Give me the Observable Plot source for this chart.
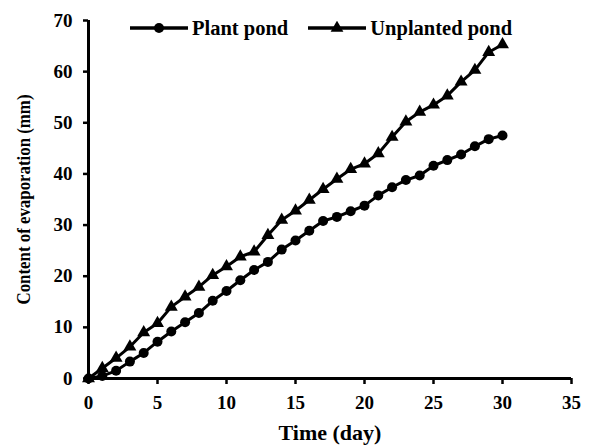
<!DOCTYPE html>
<html>
<head>
<meta charset="utf-8">
<script src="https://cdn.jsdelivr.net/npm/d3@7"></script>
<script src="https://cdn.jsdelivr.net/npm/@observablehq/plot@0.6"></script>
<style>
  body { margin: 0; background: #fff; }
  #wrap { position: relative; width: 599px; height: 445px; font-family: "Liberation Serif", "Times New Roman", serif; font-weight: bold; }
  #legend { position: absolute; top: 16px; left: 130px; display: flex; align-items: center; font-size: 20.5px; line-height: 24px; color: #000; }
  #legend .item { display: flex; align-items: center; }
  #legend svg { display: block; margin-right: 4px; }
</style>
</head>
<body>
<div id="wrap"><div id="chart"></div><div id="legend"></div></div>
<script>
const days = d3.range(0, 31);
const plantPond = [0, 0.5, 1.5, 3.3, 5, 7.2, 9.2, 11, 12.8, 15.2, 17.1, 19.2, 21.2, 22.8, 25.2, 27, 28.9, 30.8, 31.6, 32.7, 33.8, 35.8, 37.4, 38.8, 39.7, 41.6, 42.7, 43.8, 45.4, 46.8, 47.5];
const unplantedPond = [0, 2, 4, 6.2, 9, 10.8, 14, 16, 17.9, 20.2, 21.9, 23.8, 24.8, 28, 31, 32.8, 34.9, 37, 39, 40.9, 42, 44, 47.2, 50.2, 52.1, 53.5, 55.3, 58, 60.3, 63.8, 65.3];
const seriesNames = ["Plant pond", "Unplanted pond"];
const xTicks = [0, 5, 10, 15, 20, 25, 30, 35];
const yTicks = [0, 10, 20, 30, 40, 50, 60, 70];

const plant = days.map((d, i) => ({day: d, value: plantPond[i]}));
const unplanted = days.map((d, i) => ({day: d, value: unplantedPond[i]}));

const chart = Plot.plot({
  width: 599,
  height: 445,
  marginLeft: 88,
  marginRight: 28,
  marginTop: 20,
  marginBottom: 67,
  style: {fontFamily: "'Liberation Serif', 'Times New Roman', serif", fontWeight: "bold", fontSize: "19px", color: "#000", background: "#fff"},
  x: {domain: [0, 35]},
  y: {domain: [0, 70]},
  marks: [
    Plot.axisX({ticks: xTicks, tickSize: 6, tickPadding: 11, strokeWidth: 2.5, fontSize: 19, label: "Time (day)", labelAnchor: "center", labelOffset: 61, labelArrow: "none"}),
    Plot.axisY({ticks: yTicks, tickSize: 5, tickPadding: 11, strokeWidth: 2.5, fontSize: 19, label: "Content of evaporation (mm)", labelAnchor: "center", labelOffset: 72, labelArrow: "none"}),
    Plot.ruleX([0], {strokeWidth: 3}),
    Plot.ruleY([0], {strokeWidth: 3}),
    Plot.line(unplanted, {x: "day", y: "value", stroke: "#000", strokeWidth: 3}),
    Plot.dot(unplanted, {x: "day", y: "value", symbol: "triangle", r: 4.8, fill: "#000", stroke: "none"}),
    Plot.line(plant, {x: "day", y: "value", stroke: "#000", strokeWidth: 3}),
    Plot.dot(plant, {x: "day", y: "value", symbol: "circle", r: 5, fill: "#000", stroke: "none"})
  ]
});
// axis titles size
chart.querySelectorAll("[aria-label='x-axis label'] text").forEach(t => t.setAttribute("font-size", "22px"));
chart.querySelectorAll("[aria-label='y-axis label'] text").forEach(t => {
  t.setAttribute("font-size", "19px");
  t.setAttribute("textLength", "210");
  t.setAttribute("lengthAdjust", "spacingAndGlyphs");
});
document.getElementById("chart").appendChild(chart);

// legend
const legend = document.getElementById("legend");
seriesNames.forEach((name, i) => {
  const item = document.createElement("div");
  item.className = "item";
  item.style.marginRight = i === 0 ? "20px" : "0";
  const svg = d3.create("svg").attr("width", 58).attr("height", 14);
  svg.append("line").attr("x1", 0).attr("x2", 58).attr("y1", 7).attr("y2", 7).attr("stroke", "#000").attr("stroke-width", 3.5);
  svg.append("path").attr("transform", "translate(29,7)").attr("fill", "#000")
    .attr("d", d3.symbol(i === 0 ? d3.symbolCircle : d3.symbolTriangle, i === 0 ? 78 : 70)());
  item.appendChild(svg.node());
  const span = document.createElement("span");
  span.textContent = name;
  item.appendChild(span);
  legend.appendChild(item);
});
</script>
</body>
</html>
